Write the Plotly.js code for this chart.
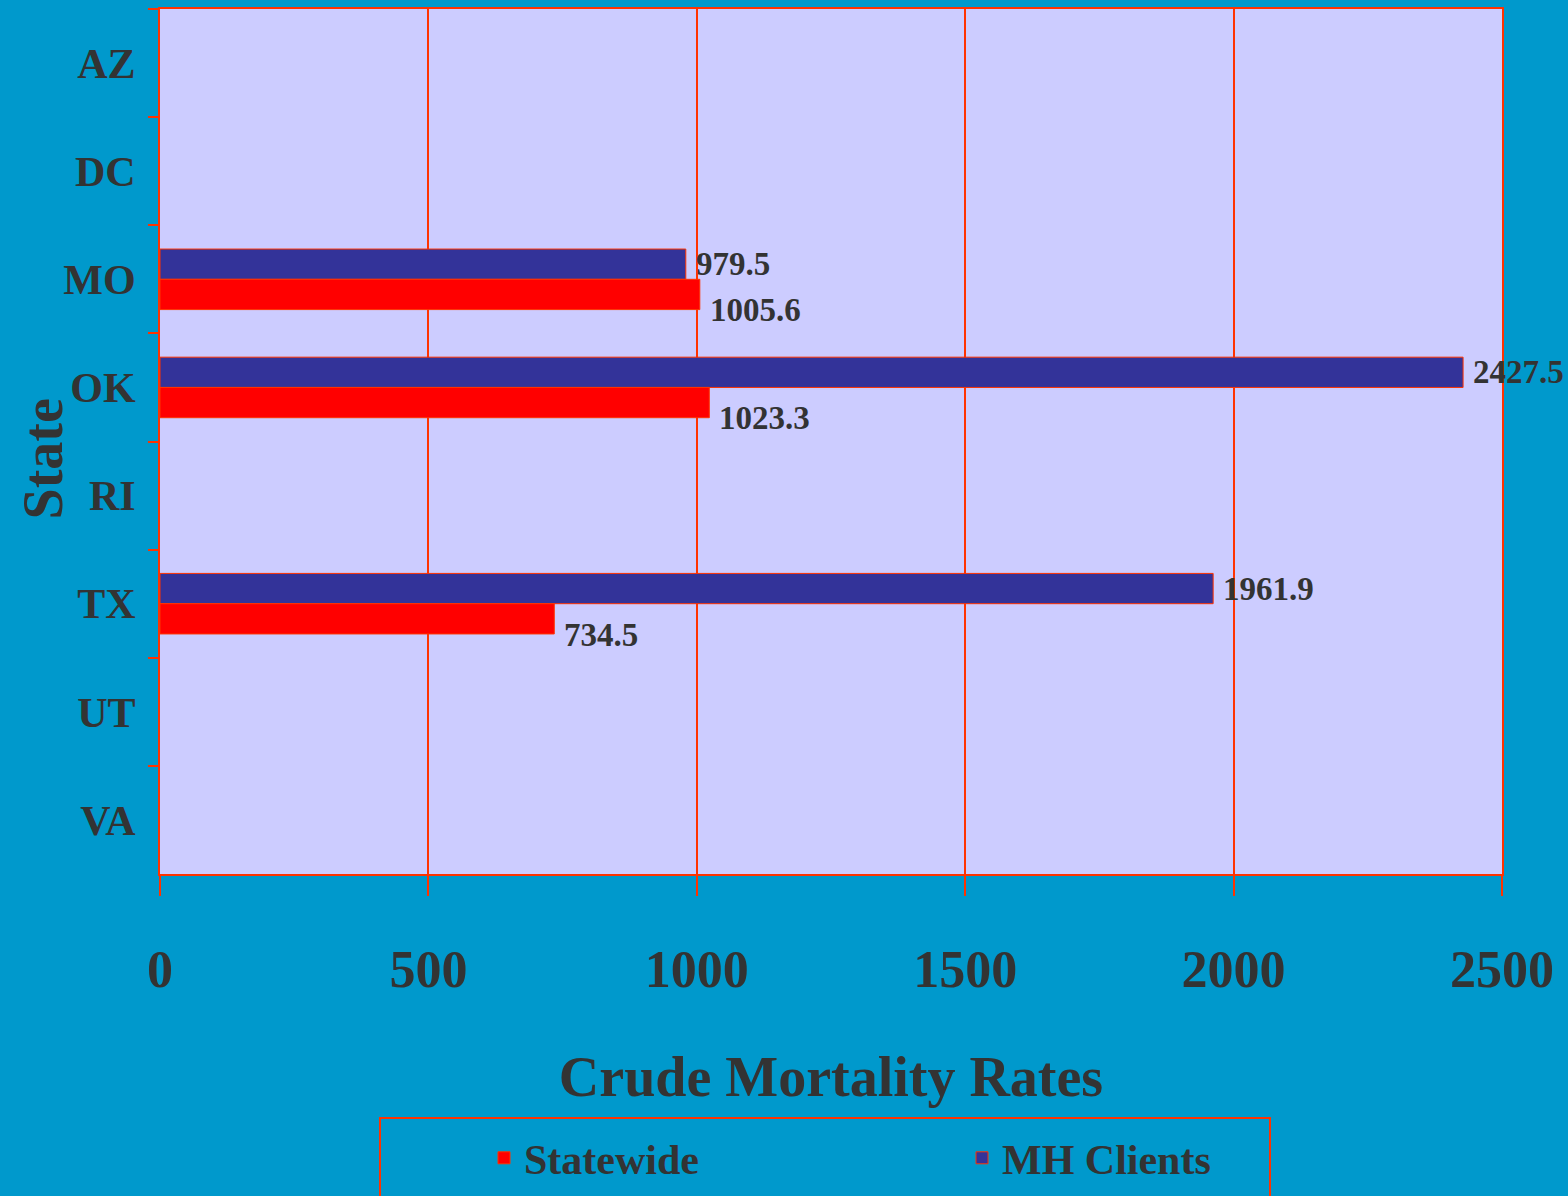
<!DOCTYPE html>
<html>
<head>
<meta charset="utf-8">
<script src="https://cdn.plot.ly/plotly-3.0.1.min.js"></script>
<style>html,body{margin:0;padding:0;background:#0099CC;}#chart{width:1568px;height:1196px;}</style>
</head>
<body>
<div id="chart"></div>
<script>
// Data
const states = ["AZ", "DC", "MO", "OK", "RI", "TX", "UT", "VA"];
const statewide = [null, null, 1005.6, 1023.3, null, 734.5, null, null];
const mhClients = [null, null, 979.5, 2427.5, null, 1961.9, null, null];
const seriesNames = ["Statewide", "MH Clients"];
const xTicks = [0, 500, 1000, 1500, 2000, 2500];
const yTitle = "State";
const xTitle = "Crude Mortality Rates";

const FONT = '"Liberation Serif", "Times New Roman", serif';
const TXT = '#333333';
const RED = '#FF3300';

const traces = [
  {
    type: 'bar', orientation: 'h', name: seriesNames[1],
    y: states, x: mhClients,
    marker: {color: '#333399', line: {color: RED, width: 1}},
    legendrank: 2, hoverinfo: 'x+y'
  },
  {
    type: 'bar', orientation: 'h', name: seriesNames[0],
    y: states, x: statewide,
    marker: {color: '#FF0000', line: {color: RED, width: 1}},
    legendrank: 1, hoverinfo: 'x+y'
  }
];

const annotations = [];
states.forEach((s, i) => {
  if (mhClients[i] != null) {
    annotations.push({x: mhClients[i], y: s, xref: 'x', yref: 'y', text: String(mhClients[i]),
      showarrow: false, xanchor: 'left', yanchor: 'middle', xshift: 8, yshift: 15,
      font: {family: FONT, size: 33, color: TXT, weight: 'bold'}});
  }
  if (statewide[i] != null) {
    annotations.push({x: statewide[i], y: s, xref: 'x', yref: 'y', text: String(statewide[i]),
      showarrow: false, xanchor: 'left', yanchor: 'middle', xshift: 8, yshift: -31,
      font: {family: FONT, size: 33, color: TXT, weight: 'bold'}});
  }
});
// y-axis title as rotated text
annotations.push({xref: 'paper', yref: 'paper', x: 0, y: 0.5, xshift: -118, yshift: -18,
  text: yTitle, textangle: -90, showarrow: false, xanchor: 'center', yanchor: 'middle',
  font: {family: FONT, size: 56, color: TXT, weight: 'bold'}});

const layout = {
  width: 1568, height: 1196,
  paper_bgcolor: '#0099CC',
  plot_bgcolor: '#CCCCFF',
  margin: {l: 160, r: 66, t: 9, b: 322, autoexpand: false},
  barmode: 'group',
  bargap: 0.44,
  bargroupgap: 0,
  font: {family: FONT, color: TXT, weight: 'bold'},
  xaxis: {
    range: [0, 2500], tickvals: xTicks, ticktext: xTicks.map(String),
    showgrid: true, gridcolor: RED, gridwidth: 2,
    showline: true, linecolor: RED, linewidth: 2, mirror: true,
    ticks: 'outside', ticklen: 20, tickcolor: RED, tickwidth: 2,
    ticklabelstandoff: 29,
    tickfont: {family: FONT, size: 52, color: TXT, weight: 'bold'},
    zeroline: false, automargin: false,
    title: {text: xTitle, standoff: 59,
      font: {family: FONT, size: 56, color: TXT, weight: 'bold'}},
    fixedrange: true
  },
  yaxis: {
    type: 'category', categoryorder: 'array', categoryarray: states,
    autorange: 'reversed',
    showgrid: false,
    showline: true, linecolor: RED, linewidth: 2, mirror: true,
    ticks: 'outside', ticklen: 10, tickcolor: RED, tickwidth: 2,
    tickson: 'boundaries',
    ticklabelstandoff: 14, automargin: false,
    tickfont: {family: FONT, size: 42, color: TXT, weight: 'bold'},
    fixedrange: true
  },
  showlegend: true,
  legend: {
    orientation: 'h', x: (502 - 18 - 160) / 1342, xanchor: 'left',
    y: (874 - 1124) / 865, yanchor: 'top',
    bgcolor: 'rgba(0,0,0,0)', borderwidth: 0,
    entrywidth: 433, entrywidthmode: 'pixels',
    font: {family: FONT, size: 42, color: TXT, weight: 'bold'}
  },
  shapes: [{
    type: 'rect', xref: 'paper', yref: 'paper',
    x0: (380 - 160) / 1342, x1: (1270 - 160) / 1342,
    y0: (874 - 1118) / 865, y1: (874 - 1210) / 865,
    line: {color: RED, width: 2}, fillcolor: 'rgba(0,0,0,0)'
  }],
  annotations: annotations
};

Plotly.newPlot('chart', traces, layout, {displayModeBar: false, staticPlot: true});
</script>
</body>
</html>
